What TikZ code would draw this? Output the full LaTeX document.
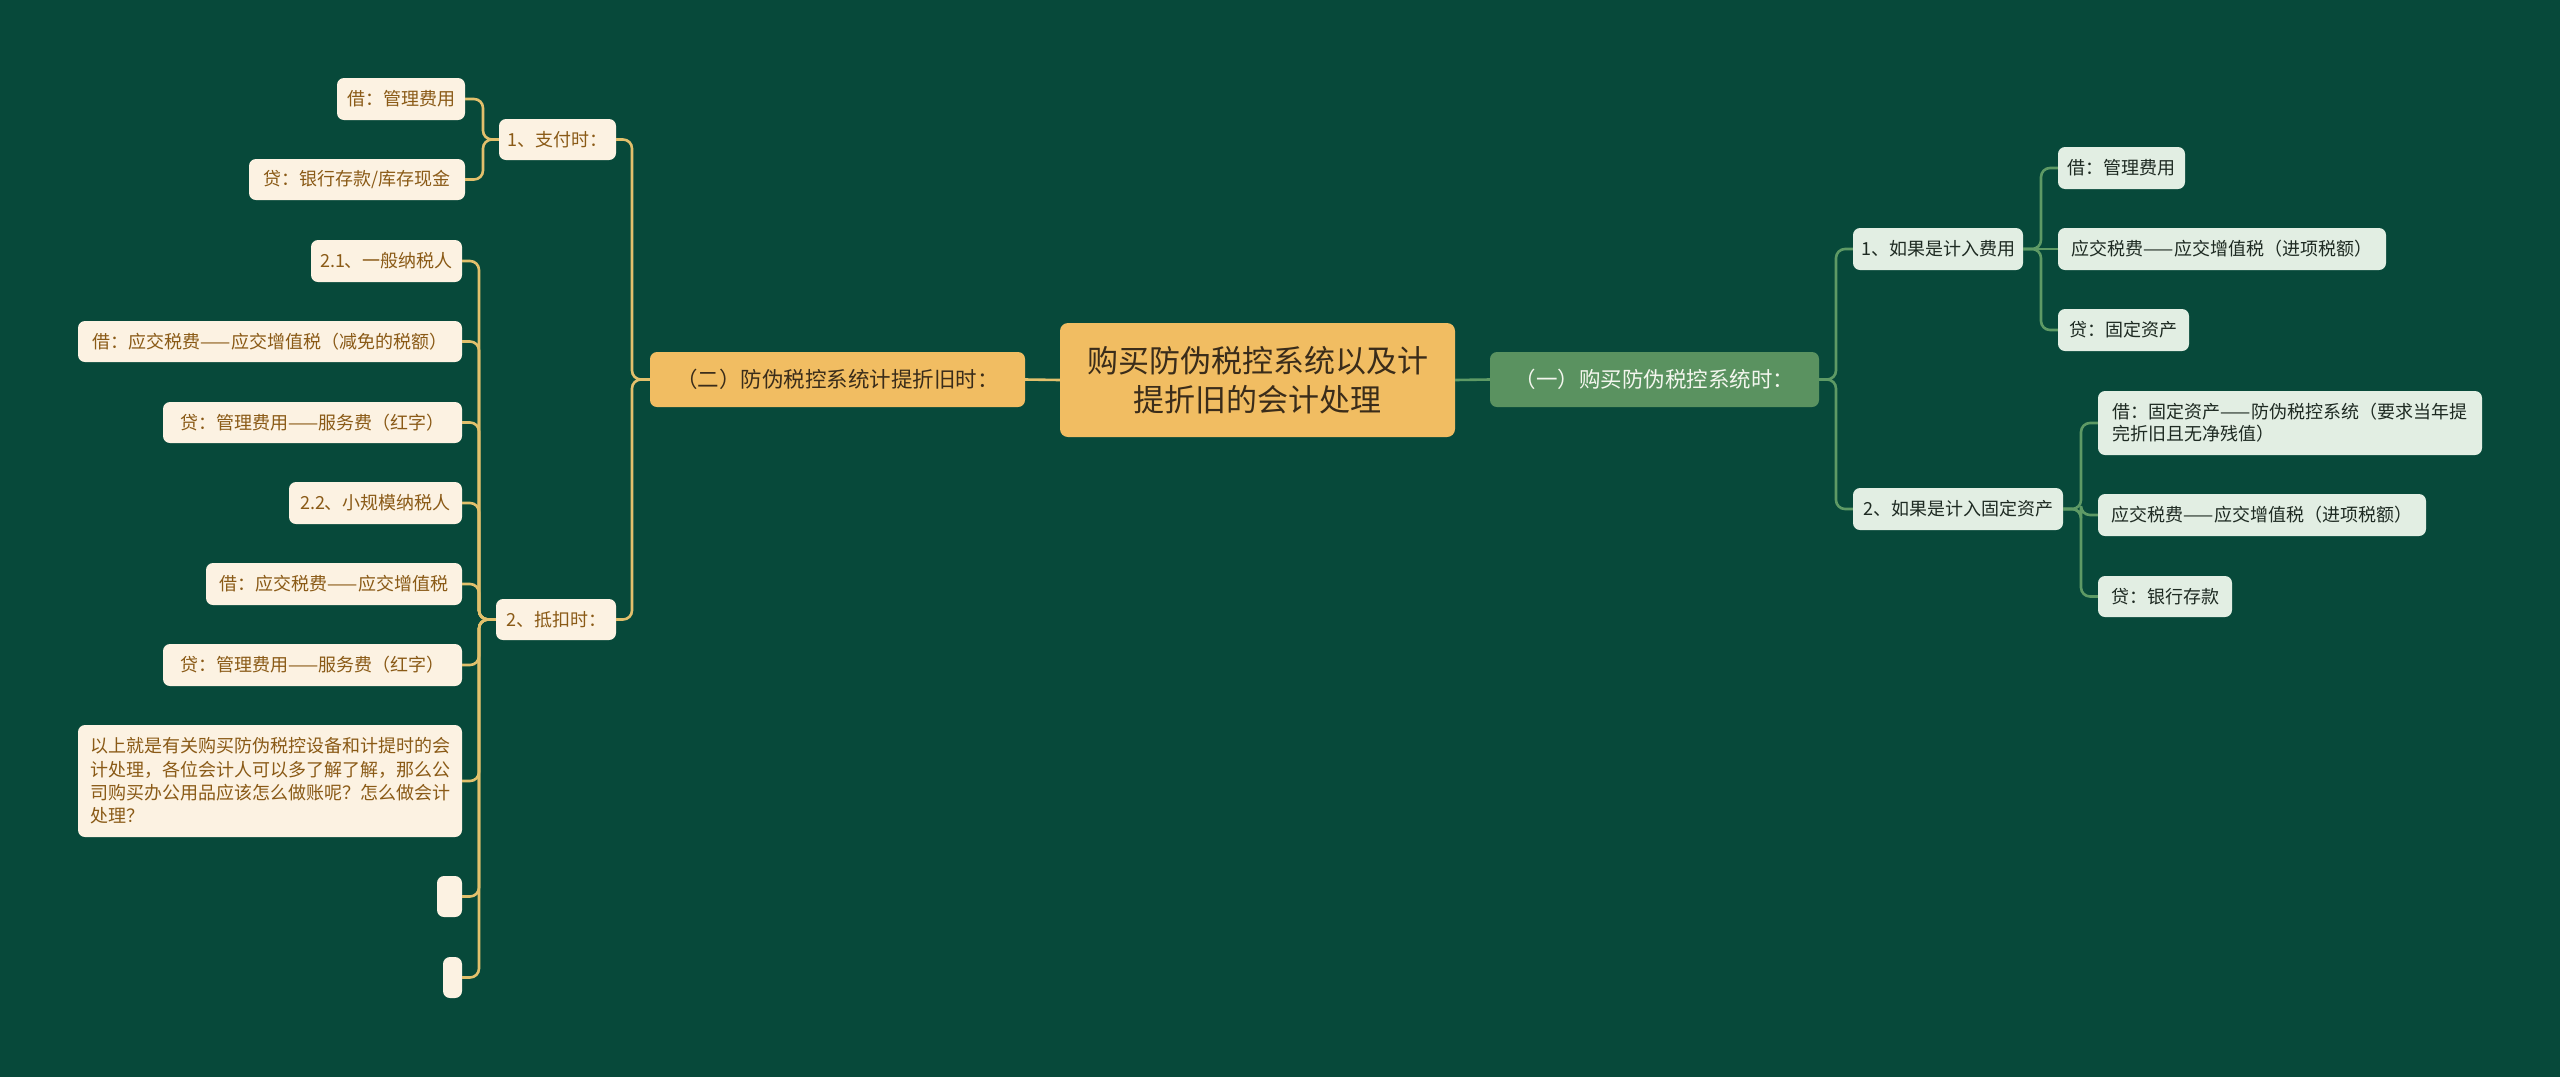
\documentclass[tikz,border=0pt]{standalone}
\usepackage{fontspec}
\setmainfont{Noto Sans CJK SC}
\definecolor{bg}{HTML}{07493A}
\definecolor{cream}{HTML}{FCF2E2}
\definecolor{creamtxt}{HTML}{8A5A16}
\definecolor{gold}{HTML}{E2C06C}
\definecolor{orangefill}{HTML}{F1BD62}
\definecolor{orangetxt}{HTML}{3A2C1A}
\definecolor{greenfill}{HTML}{5A9260}
\definecolor{greentxt}{HTML}{F3F6EE}
\definecolor{mint}{HTML}{E2EEE3}
\definecolor{minttxt}{HTML}{1E2A22}
\definecolor{gline}{HTML}{5E9A65}
\tikzset{
  base/.style={rounded corners=7pt, inner xsep=3pt, inner ysep=2pt, anchor=center},
  lnode/.style={base, fill=cream, text=creamtxt, font=\fontsize{18pt}{23.3pt}\selectfont},
  rnode/.style={base, fill=mint, text=minttxt, font=\fontsize{18pt}{22pt}\selectfont},
  lline/.style={draw=gold, line width=2.6pt, rounded corners=9pt},
  rline/.style={draw=gline, line width=2.6pt, rounded corners=9pt},
}
\begin{document}
\begin{tikzpicture}[x=1pt, y=-1pt]
\fill[bg] (0,0) rectangle (2560,1077);
\useasboundingbox (0,0) rectangle (2560,1077);

% root
\node[base, rounded corners=8pt, fill=orangefill, text=orangetxt, align=center,
  font=\fontsize{31pt}{39pt}\selectfont, minimum width=395pt, minimum height=114pt]
  (root) at (1257.5,380) {购买防伪税控系统以及计\\提折旧的会计处理};

% level 1
\node[base, fill=orangefill, text=orangetxt, font=\fontsize{21.5pt}{26pt}\selectfont,
  minimum width=375pt, minimum height=55pt] (L2) at (837.5,379.5) {（二）防伪税控系统计提折旧时：};
\node[base, fill=greenfill, text=greentxt, font=\fontsize{21.5pt}{26pt}\selectfont,
  minimum width=329pt, minimum height=55pt] (R1) at (1654.5,379.5) {（一）购买防伪税控系统时：};

% left level 2
\node[lnode, minimum width=117pt, minimum height=41pt] (lA) at (557.5,139.5) {1、支付时：};
\node[lnode, minimum width=120pt, minimum height=41pt] (lB) at (556,619.5) {2、抵扣时：};

% left level 3
\node[lnode, minimum width=128pt, minimum height=42pt] (la1) at (401,99) {借：管理费用};
\node[lnode, minimum width=216pt, minimum height=41pt] (la2) at (357,179.5) {贷：银行存款/库存现金};

\node[lnode, minimum width=151pt, minimum height=42pt] (lb1) at (386.5,261) {2.1、一般纳税人};
\node[lnode, minimum width=384pt, minimum height=41pt] (lb2) at (270,341.5) {借：应交税费——应交增值税（减免的税额）};
\node[lnode, minimum width=299pt, minimum height=41pt] (lb3) at (312.5,422.5) {贷：管理费用——服务费（红字）};
\node[lnode, minimum width=173pt, minimum height=42pt] (lb4) at (375.5,503) {2.2、小规模纳税人};
\node[lnode, minimum width=256pt, minimum height=42pt] (lb5) at (334,584) {借：应交税费——应交增值税};
\node[lnode, minimum width=299pt, minimum height=42pt] (lb6) at (312.5,665) {贷：管理费用——服务费（红字）};
\node[lnode, align=left, minimum width=384pt, minimum height=112pt] (lb7) at (270,781)
  {以上就是有关购买防伪税控设备和计提时的会\\计处理，各位会计人可以多了解了解，那么公\\司购买办公用品应该怎么做账呢？怎么做会计\\处理？};
\node[lnode, minimum width=25pt, minimum height=41pt] (lb8) at (449.5,896.5) {};
\node[lnode, minimum width=19pt, minimum height=41pt] (lb9) at (452.5,977.5) {};

% right level 2
\node[rnode, minimum width=170pt, minimum height=42pt] (rA) at (1938,249) {1、如果是计入费用};
\node[rnode, minimum width=210pt, minimum height=42pt] (rB) at (1958,509) {2、如果是计入固定资产};

% right level 3
\node[rnode, minimum width=127pt, minimum height=42pt] (ra1) at (2121.5,168) {借：管理费用};
\node[rnode, minimum width=328pt, minimum height=42pt] (ra2) at (2222,249) {应交税费——应交增值税（进项税额）};
\node[rnode, minimum width=131pt, minimum height=42pt] (ra3) at (2123.5,330) {贷：固定资产};
\node[rnode, align=left, minimum width=384pt, minimum height=64pt] (rb1) at (2290,423)
  {借：固定资产——防伪税控系统（要求当年提\\完折旧且无净残值）};
\node[rnode, minimum width=328pt, minimum height=42pt] (rb2) at (2262,515) {应交税费——应交增值税（进项税额）};
\node[rnode, minimum width=134pt, minimum height=41pt] (rb3) at (2165,596.5) {贷：银行存款};

% vertical guide x positions
\coordinate (vla) at (483,0);
\coordinate (vlb) at (479,0);
\coordinate (vL) at (632,0);
\coordinate (vR) at (1836,0);
\coordinate (vra) at (2041,0);
\coordinate (vrb) at (2081,0);

% root connectors
\draw[lline] (L2.east) -- (root.west);
\draw[rline] (root.east) -- (R1.west);

% left connectors
\foreach \c in {lA,lB} \draw[lline] (\c.east) -- (\c.east -| vL) -- (L2.west -| vL) -- (L2.west);
\foreach \c in {la1,la2} \draw[lline] (\c.east) -- (\c.east -| vla) -- (lA.west -| vla) -- (lA.west);
\foreach \c in {lb1,lb2,lb3,lb4,lb5,lb6,lb7,lb8,lb9} \draw[lline] (\c.east) -- (\c.east -| vlb) -- (lB.west -| vlb) -- (lB.west);

% right connectors
\foreach \c in {rA,rB} \draw[rline] (R1.east) -- (R1.east -| vR) -- (\c.west -| vR) -- (\c.west);
\foreach \c in {ra1,ra3} \draw[rline] (rA.east) -- (rA.east -| vra) -- (\c.west -| vra) -- (\c.west);
\draw[rline] (rA.east) -- (ra2.west);
\foreach \c in {rb1,rb2,rb3} \draw[rline] (rB.east) -- (rB.east -| vrb) -- (\c.west -| vrb) -- (\c.west);
\end{tikzpicture}
\end{document}
